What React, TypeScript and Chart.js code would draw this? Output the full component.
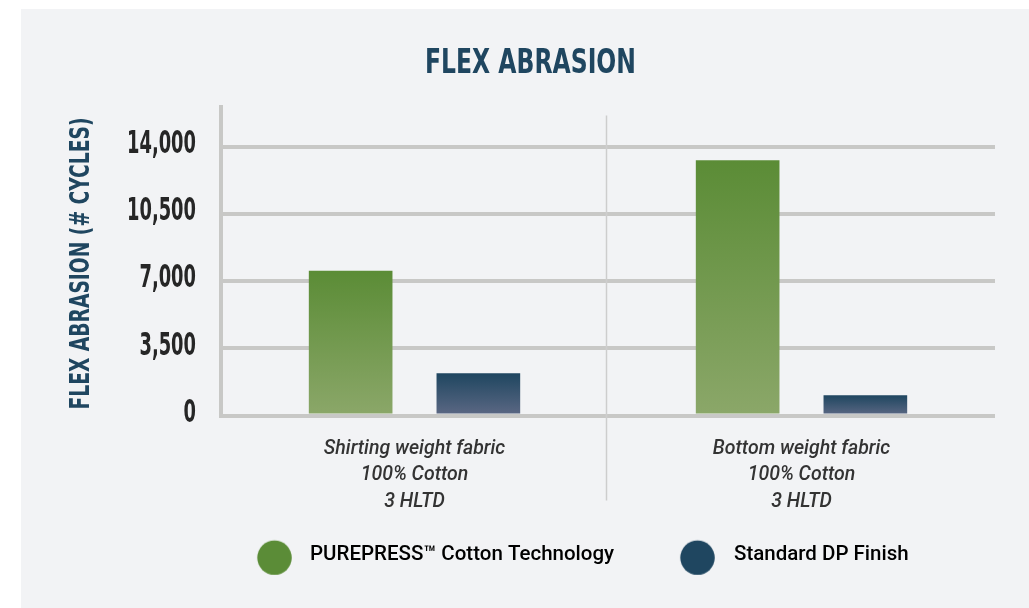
import { useEffect, useRef } from 'react';
import { Chart, registerables } from 'chart.js';

Chart.register(...registerables);

// ---------- data ----------
const categories = [
  ['Shirting weight fabric', '100% Cotton', '3 HLTD'],
  ['Bottom weight fabric', '100% Cotton', '3 HLTD'],
];
const seriesNames = ['PUREPRESS™ Cotton Technology', 'Standard DP Finish'];
const purepressValues = [7550, 13300];
const standardValues = [2200, 1050];
const yTickValues = [0, 3500, 7000, 10500, 14000];
const yMax = 16100;
const chartTitle = 'FLEX ABRASION';
const yAxisTitle = 'FLEX ABRASION (# CYCLES)';

// ---------- styles ----------
const NARROW = "'DejaVu Sans Condensed', 'DejaVu Sans', sans-serif";
const GREEN_TOP = '#5b8c36';
const GREEN_BOTTOM = '#8ba769';
const NAVY_TOP = '#1f4660';
const NAVY_BOTTOM = '#5c6884';
const TITLE_COLOR = '#1f4660';
const GRID_COLOR = '#c8c8c6';
const PANEL_LEFT = 21;
const PANEL_TOP = 9;
const W = 1008;
const H = 599;
const CHART_LEFT = 200; // canvas px
const PAD_RIGHT = 34;
const LEGEND_FONT = 20.5;
const LEGEND_PAD = 10;
const TITLE_SIZE = 34;
const TITLE_CENTER = 509.5;
const TITLE_WIDTH = 211;
const TICK_SIZE = 31.5;
const TICK_PAD = 25;
const TICK_LABEL_WIDTH = 69; // width of "14,000"
const YTITLE_SIZE = 26;
const YTITLE_LENGTH = 292;

const gradientFill = (top: string, bottom: string) => (ctx: any) => {
  const chart = ctx.chart;
  const y = chart.scales && chart.scales.y;
  if (ctx.type !== 'data' || !y || !chart.chartArea) return top;
  const y0 = y.getPixelForValue(0);
  const y1 = y.getPixelForValue(ctx.raw);
  if (!isFinite(y0) || !isFinite(y1) || Math.abs(y0 - y1) < 1) return top;
  const g = chart.ctx.createLinearGradient(0, y1, 0, y0);
  g.addColorStop(0, top);
  g.addColorStop(1, bottom);
  return g;
};

const makeDot = (color: string, dx: number, dy: number, r: number) => {
  const c = document.createElement('canvas');
  const w = 2 * Math.ceil(Math.abs(dx) + r + 4);
  const h = 2 * Math.ceil(Math.abs(dy) + r + 4);
  c.width = w;
  c.height = h;
  const g = c.getContext('2d')!;
  g.fillStyle = color;
  g.beginPath();
  g.arc(w / 2 + dx, h / 2 + dy, r, 0, Math.PI * 2);
  g.fill();
  return c;
};

const dividerPlugin = {
  id: 'categoryDivider',
  beforeDatasetsDraw(chart: any) {
    const x = chart.scales.x;
    const { top, bottom } = chart.chartArea;
    const ctx = chart.ctx;
    const px = (x.getPixelForValue(0) + x.getPixelForValue(1)) / 2 - 1.5;
    ctx.save();
    ctx.strokeStyle = '#cdcdcd';
    ctx.lineWidth = 1.5;
    ctx.beginPath();
    ctx.moveTo(px, top + 9);
    ctx.lineTo(px, bottom + 85);
    ctx.stroke();
    ctx.restore();
  },
};

export default function App() {
  const ref = useRef<HTMLCanvasElement | null>(null);

  useEffect(() => {
    if (!ref.current) return;

    const m = document.createElement('canvas').getContext('2d')!;
    // legend geometry
    m.font = `500 ${LEGEND_FONT}px Roboto`;
    const t1 = m.measureText(seriesNames[0]).width;
    const t2 = m.measureText(seriesNames[1]).width;
    const text1 = 310 - PANEL_LEFT;
    const text2 = 734 - PANEL_LEFT;
    const boxW = text2 - text1 - t1 - LEGEND_PAD - LEGEND_FONT / 2;
    const mid = text1 + LEGEND_PAD / 2 + (t1 + t2) / 2;
    const chartRight = W - PAD_RIGHT;
    const padLeft = 2 * mid - chartRight;
    const dx1 = 274.5 - PANEL_LEFT - (text1 - LEGEND_FONT / 2 - boxW / 2);
    const dx2 = 697.5 - PANEL_LEFT - (text2 - LEGEND_FONT / 2 - boxW / 2);
    const dots = [makeDot('#5b8c37', dx1, 3, 17.25), makeDot('#1f4660', dx2, 3, 17.25)];

    // condensed-face factors
    m.font = `bold ${TICK_SIZE}px ${NARROW}`;
    const tickK = TICK_LABEL_WIDTH / (m.measureText('14,000').width || TICK_LABEL_WIDTH);
    m.font = `bold ${YTITLE_SIZE}px ${NARROW}`;
    const yTitleK = YTITLE_LENGTH / (m.measureText(yAxisTitle).width || YTITLE_LENGTH);

    const condensePlugin = {
      id: 'condensedText',
      afterLayout(chart: any) {
        const tb = chart.titleBlock;
        if (tb) {
          tb.left = TITLE_CENTER - TITLE_WIDTH / 2;
          tb.right = TITLE_CENTER + TITLE_WIDTH / 2;
        }
        const y = chart.scales.y;
        if (y && !y.__condensed) {
          y.__condensed = true;
          const origLabels = y.drawLabels.bind(y);
          y.drawLabels = (area: any) => {
            const ctx = chart.ctx;
            const ax = y.right - TICK_PAD;
            const savedLeft = y.left;
            y.left = -2000; // widen the label clip box so the condensed labels are not cut
            ctx.save();
            ctx.translate(ax, -2);
            ctx.scale(tickK, 1);
            ctx.translate(-ax, 0);
            origLabels(area);
            ctx.restore();
            y.left = savedLeft;
          };
          const origTitle = y.drawTitle.bind(y);
          y.drawTitle = () => {
            const ctx = chart.ctx;
            const cy = (y.top + y.bottom) / 2;
            ctx.save();
            ctx.translate(0, cy + 2.5);
            ctx.scale(1, yTitleK);
            ctx.translate(0, -cy);
            origTitle();
            ctx.restore();
          };
        }
      },
    };

    const chart = new Chart(ref.current, {
      type: 'bar',
      data: {
        labels: categories,
        datasets: [
          {
            label: seriesNames[0],
            data: purepressValues,
            backgroundColor: gradientFill(GREEN_TOP, GREEN_BOTTOM),
            borderWidth: 0,
            categoryPercentage: 0.66,
            barPercentage: 0.655,
          },
          {
            label: seriesNames[1],
            data: standardValues,
            backgroundColor: gradientFill(NAVY_TOP, NAVY_BOTTOM),
            borderWidth: 0,
            categoryPercentage: 0.66,
            barPercentage: 0.655,
          },
        ],
      },
      options: {
        responsive: false,
        animation: false,
        devicePixelRatio: 1,
        layout: { padding: { left: padLeft, right: PAD_RIGHT, top: 0, bottom: 33 } },
        plugins: {
          title: {
            display: true,
            text: chartTitle,
            color: TITLE_COLOR,
            font: { family: NARROW, size: TITLE_SIZE, weight: 'bold', lineHeight: 1.2 },
            padding: { top: 34.7, bottom: 22.1 },
          },
          legend: {
            display: true,
            position: 'bottom',
            labels: {
              usePointStyle: true,
              pointStyleWidth: boxW,
              padding: LEGEND_PAD,
              color: '#1c2a38',
              font: { family: 'Roboto', size: LEGEND_FONT, weight: '500' },
              generateLabels: () =>
                seriesNames.map((name, i) => ({
                  text: name,
                  fillStyle: i === 0 ? GREEN_TOP : NAVY_TOP,
                  strokeStyle: 'transparent',
                  lineWidth: 0,
                  pointStyle: dots[i],
                  hidden: false,
                  datasetIndex: i,
                })),
            },
          },
          tooltip: { enabled: false },
        },
        scales: {
          x: {
            grid: { display: false, drawTicks: false },
            border: { display: false },
            ticks: {
              color: '#333333',
              padding: 20.25,
              font: { family: 'Roboto', size: 19.5, style: 'italic', weight: '500', lineHeight: 1.359 },
              maxRotation: 0,
              autoSkip: false,
            },
            afterFit: (scale: any) => {
              scale.height = 119;
            },
          },
          y: {
            min: 0,
            max: yMax,
            afterBuildTicks: (scale: any) => {
              scale.ticks = yTickValues.map((v) => ({ value: v }));
            },
            grid: { color: GRID_COLOR, lineWidth: 4, drawTicks: false },
            border: { display: true, color: GRID_COLOR, width: 4 },
            ticks: {
              color: '#262626',
              padding: TICK_PAD,
              font: { family: NARROW, size: TICK_SIZE, weight: 'bold' },
              callback: (v: any) => Number(v).toLocaleString('en-US'),
            },
            title: {
              display: true,
              text: yAxisTitle,
              color: TITLE_COLOR,
              font: { family: NARROW, size: YTITLE_SIZE, weight: 'bold', lineHeight: 1.2 },
              padding: { top: 61.5 - padLeft - (YTITLE_SIZE * 1.2) / 2, bottom: 0 },
            },
            afterFit: (scale: any) => {
              scale.width = CHART_LEFT - padLeft;
            },
          },
        },
      },
      plugins: [dividerPlugin, condensePlugin],
    });

    return () => chart.destroy();
  }, []);

  return (
    <div
      style={{
        position: 'absolute',
        left: PANEL_LEFT,
        top: PANEL_TOP,
        width: W,
        height: H,
        background: '#f2f3f5',
        overflow: 'hidden',
      }}
    >
      <canvas ref={ref} width={W} height={H} style={{ display: 'block' }} />
    </div>
  );
}
